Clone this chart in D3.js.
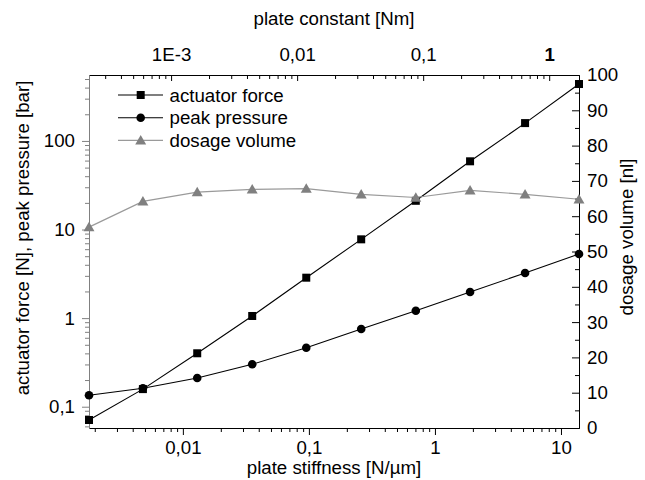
<!DOCTYPE html>
<html><head><meta charset="utf-8">
<script src="https://cdn.jsdelivr.net/npm/d3@7"></script>
<style>
body{margin:0;background:#fff}
svg{display:block}
text{font-family:"Liberation Sans",Arial,Helvetica,sans-serif;fill:#000}
</style>
</head><body>
<svg id="chart" width="645" height="480"></svg>
<script>
// ---- data ----
const stiffness      = [0.0018, 0.00482, 0.0130, 0.0355, 0.0953, 0.260, 0.705, 1.90, 5.19, 13.9]; // N/µm
const actuatorForce  = [0.0708, 0.158, 0.401, 1.057, 2.86, 7.75, 21.1, 58.9, 159, 439];        // N
const peakPressure   = [0.1345, 0.1614, 0.211, 0.301, 0.463, 0.753, 1.213, 1.97, 3.23, 5.29];  // bar
const dosageVolume   = [56.9, 64.2, 66.8, 67.6, 67.8, 66.2, 65.3, 67.3, 66.2, 64.8];           // nl
const plateConstantPerStiffness = 0.124; // plate constant [Nm] = stiffness * factor

const seriesNames = ["actuator force", "peak pressure", "dosage volume"];

const bottomTicks = [0.01, 0.1, 1, 10];
const bottomTickLabels = ["0,01", "0,1", "1", "10"];
const topTicks = [0.001, 0.01, 0.1, 1];
const topTickLabels = ["1E-3", "0,01", "0,1", "1"];
const leftTicks = [0.1, 1, 10, 100];
const leftTickLabels = ["0,1", "1", "10", "100"];
const rightTicks = [0, 10, 20, 30, 40, 50, 60, 70, 80, 90, 100];
const rightMinorTicks = [5, 15, 25, 35, 45, 55, 65, 75, 85, 95];

const xDomain = [0.0018, 13.9];
const yLeftDomain = [0.0575, 555];
const yRightDomain = [0, 100];

// ---- layout ----
const L = 89, R = 579, T = 75, B = 428;
const FS = 18.7;
const svg = d3.select("#chart");

const x = d3.scaleLog().domain(xDomain).range([L, R]);
const xTop = d3.scaleLog().domain(xDomain.map(v => v * plateConstantPerStiffness)).range([L, R]);
const yL = d3.scaleLog().domain(yLeftDomain).range([B, T]);
const yR = d3.scaleLinear().domain(yRightDomain).range([B, T]);

const isMajor = v => Math.abs(Math.log10(v) - Math.round(Math.log10(v))) < 1e-9;
const minorOf = s => s.ticks().filter(v => !isMajor(v));
const lbl = (vals, labels) => v => labels[vals.findIndex(t => Math.abs(t - v) / t < 1e-6)];

function style(g, color, fs) {
  g.select(".domain").attr("stroke", color).attr("stroke-width", 1);
  g.selectAll(".tick line").attr("stroke", color).attr("stroke-width", 1);
  g.selectAll(".tick text").attr("font-size", fs).attr("font-family", null).attr("fill", "#000");
}

// bottom axis
const gB = svg.append("g").attr("transform", `translate(0,${B})`);
gB.append("g").call(d3.axisBottom(x).tickValues(minorOf(x)).tickSizeInner(4).tickSizeOuter(0).tickFormat(""))
  .call(g => style(g, "#000", FS));
gB.append("g").call(d3.axisBottom(x).tickValues(bottomTicks).tickSizeInner(7).tickSizeOuter(0).tickPadding(6)
  .tickFormat(lbl(bottomTicks, bottomTickLabels))).call(g => style(g, "#000", FS));

// top axis (ticks inward)
const gT = svg.append("g").attr("transform", `translate(0,${T})`);
gT.append("g").call(d3.axisTop(xTop).tickValues(minorOf(xTop)).tickSizeInner(-4).tickSizeOuter(0).tickFormat(""))
  .call(g => style(g, "#000", FS));
gT.append("g").call(d3.axisTop(xTop).tickValues(topTicks).tickSizeInner(-6).tickSizeOuter(0).tickPadding(14)
  .tickFormat(lbl(topTicks, topTickLabels))).call(g => style(g, "#000", FS))
  .call(g => g.selectAll(".tick text").filter(d => d === 1).attr("font-weight", "bold"));

// right axis (ticks inward)
const gR = svg.append("g").attr("transform", `translate(${R},0)`);
gR.append("g").call(d3.axisRight(yR).tickValues(rightMinorTicks).tickSizeInner(-4).tickSizeOuter(0).tickFormat(""))
  .call(g => style(g, "#000", FS));
gR.append("g").call(d3.axisRight(yR).tickValues(rightTicks).tickSizeInner(-7).tickSizeOuter(0).tickPadding(8)
  .tickFormat(d3.format("d"))).call(g => style(g, "#000", FS));

// left axis (ticks outward, grey line)
const gL = svg.append("g").attr("transform", `translate(${L},0)`);
gL.append("g").call(d3.axisLeft(yL).tickValues(minorOf(yL)).tickSizeInner(4).tickSizeOuter(0).tickFormat(""))
  .call(g => style(g, "#808080", FS));
gL.append("g").call(d3.axisLeft(yL).tickValues(leftTicks).tickSizeInner(7).tickSizeOuter(0).tickPadding(7)
  .tickFormat(lbl(leftTicks, leftTickLabels))).call(g => style(g, "#808080", FS));

// axis titles
svg.append("text").attr("x", (L + R) / 2).attr("y", 25).attr("text-anchor", "middle").attr("font-size", FS)
  .text("plate constant [Nm]");
svg.append("text").attr("x", (L + R) / 2).attr("y", 474).attr("text-anchor", "middle").attr("font-size", FS)
  .text("plate stiffness [N/µm]");
svg.append("text").attr("transform", "translate(29,238) rotate(-90)").attr("text-anchor", "middle").attr("font-size", FS)
  .text("actuator force [N], peak pressure [bar]");
svg.append("text").attr("transform", "translate(633,237) rotate(-90)").attr("text-anchor", "middle").attr("font-size", FS)
  .text("dosage volume [nl]");

// ---- series ----
const pts = (ys, sy) => stiffness.map((s, i) => [x(s), sy(ys[i])]);
const line = d3.line();
const SQ = 8, CR = 4.3;
const tri = d3.symbol().type(d3.symbolTriangle).size(52);

const plot = svg.append("g");
function drawSquare(g, cx, cy) {
  g.append("rect").attr("x", cx - SQ / 2).attr("y", cy - SQ / 2).attr("width", SQ).attr("height", SQ).attr("fill", "#000");
}
function drawCircle(g, cx, cy) {
  g.append("circle").attr("cx", cx).attr("cy", cy).attr("r", CR).attr("fill", "#000");
}
function drawTri(g, cx, cy) {
  g.append("path").attr("d", tri()).attr("transform", `translate(${cx},${cy + 1})`).attr("fill", "#808080");
}

const pF = pts(actuatorForce, yL), pP = pts(peakPressure, yL), pD = pts(dosageVolume, yR);
plot.append("path").attr("d", line(pF)).attr("fill", "none").attr("stroke", "#000").attr("stroke-width", 1.1);
pF.forEach(p => drawSquare(plot, p[0], p[1]));
plot.append("path").attr("d", line(pP)).attr("fill", "none").attr("stroke", "#000").attr("stroke-width", 1.1);
pP.forEach(p => drawCircle(plot, p[0], p[1]));
plot.append("path").attr("d", line(pD)).attr("fill", "none").attr("stroke", "#9a9a9a").attr("stroke-width", 1.2);
pD.forEach(p => drawTri(plot, p[0], p[1]));

// ---- legend ----
const leg = svg.append("g");
const legY = [95, 117.7, 140.4];
const legColors = ["#000", "#000", "#9a9a9a"];
const legDraw = [drawSquare, drawCircle, drawTri];
seriesNames.forEach((name, i) => {
  leg.append("line").attr("x1", 118).attr("x2", 163).attr("y1", legY[i]).attr("y2", legY[i])
    .attr("stroke", legColors[i]).attr("stroke-width", 1.1);
  legDraw[i](leg, 140.7, legY[i]);
  leg.append("text").attr("x", 169.5).attr("y", legY[i] + 6.5).attr("font-size", FS).text(name);
});
</script>
</body></html>
